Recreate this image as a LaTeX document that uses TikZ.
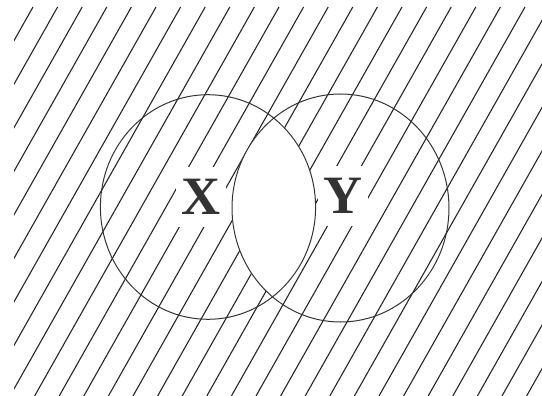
\documentclass[tikz,border=0pt]{standalone}
\usepackage{fontspec}
\newfontfamily\lblfont{Liberation Serif}
\begin{document}
\begin{tikzpicture}[x=1pt,y=-1pt,
  hatch/.style={line width=1.1pt, draw=black!85},
  setline/.style={line width=1pt, draw=black!80},
  setlabel/.style={fill=white, inner sep=0pt, minimum width=50pt, minimum height=60pt,
    font=\lblfont\bfseries\fontsize{54}{54}\selectfont, text=black!80}]
\useasboundingbox (0,0) rectangle (542,396);
% hatching
\begin{scope}
  \clip (14,7) rectangle (542,396);
  \foreach \k in {-12,...,30}{
    \draw[hatch] ({33+24.6*\k},7) -- ({33+24.6*\k-219.8},396);
  }
\end{scope}
% lens (intersection) left blank
\begin{scope}
  \clip (208,207) ellipse [x radius=107.6, y radius=112.3];
  \fill[white] (340.5,208) ellipse [x radius=108.5, y radius=114];
\end{scope}
% labels
\node[setlabel] (lx) at (201,197) {X};
\node[setlabel] (ly) at (343,196) {Y};
% circles
\draw[setline] (208,207) ellipse [x radius=107.6, y radius=112.3];
\draw[setline] (340.5,208) ellipse [x radius=108.5, y radius=114];
\end{tikzpicture}
\end{document}
